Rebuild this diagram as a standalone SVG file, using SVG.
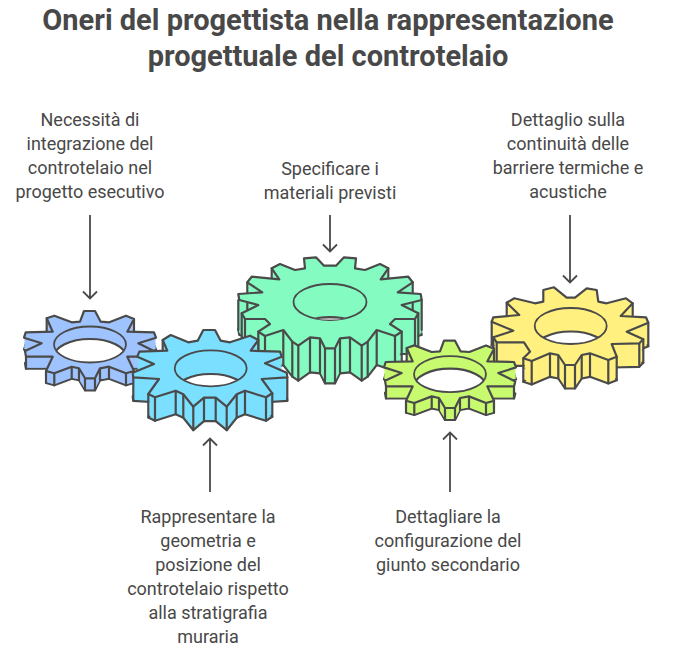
<svg xmlns="http://www.w3.org/2000/svg" xmlns:xlink="http://www.w3.org/1999/xlink" width="673" height="662" viewBox="0 0 673 662">
<style>
text{font-family:Roboto,"Liberation Sans",sans-serif;fill:#484848;text-anchor:middle}
.t{font-size:29px;font-weight:700}
.l{font-size:18px}
.s{stroke:none}
.e,.v,.h{stroke:#4a4a4a;stroke-width:2.2;stroke-linejoin:round;stroke-linecap:round}
.v,.c{fill:none}
.c{stroke:#4a4a4a;stroke-width:1.8;stroke-linecap:butt}
.w{fill:#fff;stroke:#4a4a4a;stroke-width:2.2}
.a{fill:none;stroke:#4a4a4a;stroke-width:1.8;stroke-linejoin:miter}
</style>
<defs>
<polygon id="small" points="84,311 95,311 100.7,321.7 109.3,322.3 126,315.7 134,319 127.3,331.7 154,332.3 156,337.7 138.3,343.3 155.3,351.7 154,356.7 127.3,356.7 134,371 126,373.3 109,366.7 100,368.3 95,378.3 85,378.3 79,368.3 71.7,366.7 54.3,373.3 46,371 52.7,356.7 26,356.7 25,351 41.7,343.3 24,337.7 25.7,332.3 52.7,331.7 46.7,318.3 54.3,315.7 71.7,322.3 80,321.7"/>
<polygon id="cy" points="203.3,330 215,330 220.7,340.7 230,342.3 250,335.7 258.3,340 250.7,350.7 280,351.7 281.7,356.7 265,363.3 286.7,372.7 287.3,377.3 261.7,379 272.3,393.3 266,397.3 245,390.7 236.7,394.3 226.7,406.7 215.7,397.7 204,397.7 193.3,406.7 183.3,394.3 175.7,390.7 155,397.3 148.3,394 159,379 133.3,377.3 132.7,372.7 154,364 137.3,356.7 139.3,351.7 167.3,350.7 162.7,340 170.7,335 188.3,342.3 197.7,340.7"/>
<polygon id="gr" points="304,258.3 316,257.3 324,265.7 336,265.7 344,257.3 356,258.3 355,268.3 365,270 380,264 388.3,268.3 380.7,279.3 408.3,276.7 412.7,282.3 397.7,292.3 420.7,294 421.7,300 401.7,305 418.3,313.3 415,319 395,319 390,324 401.7,331.7 395,336 376.7,330 367.7,341.7 361.7,345.7 350,337.3 340,338.3 335,348.3 325,348.3 320,338.3 310,337.3 298.3,345.7 292.3,341.7 283.3,330 265,336 258.3,331.7 270,324 265,319 245,319 241.7,313.3 258.3,305 239.3,300 238.3,294 262.3,292.3 247.3,282.3 251.7,276.7 279.3,279.3 271.7,268.3 280,264 295,270 305,268.3"/>
<polygon id="ye" points="543.3,290 554,287.3 566.7,297.7 575,297.7 586.7,288.3 596.7,290 598.3,301.7 606.7,303.3 626,298.3 632.7,303.3 620.7,316 646,317.3 648.3,322.7 626.7,331.7 643.3,339.3 639.3,343.3 611.7,344 616.7,356.7 608.3,360 590,353.3 581.7,355 575,365 565,365 558.3,355 550,353.3 531.7,361 523.3,358.3 530,351.7 524,342.3 496.7,342.3 493.3,337.3 513.3,330.7 491.7,321.7 493.3,317.3 519.3,315 506.7,302.7 514.3,298.3 535,303.3 543.3,301.7"/>
<clipPath id="hb"><ellipse cx="90" cy="344.5" rx="36" ry="18"/></clipPath>
<clipPath id="hc"><ellipse cx="210.7" cy="368.3" rx="36" ry="18"/></clipPath>
<clipPath id="hg"><ellipse cx="330" cy="302" rx="36.5" ry="18"/></clipPath>
<clipPath id="hy"><ellipse cx="570.7" cy="326" rx="36" ry="18"/></clipPath>
<clipPath id="hl"><ellipse cx="450" cy="374.2" rx="36" ry="18"/></clipPath>
</defs>

<g id="title">
<text class="t" x="328" y="30">Oneri del progettista nella rappresentazione</text>
<text class="t" x="328" y="66">progettuale del controtelaio</text>
</g>

<g id="gear-green" fill="#84fbc0">
<use href="#gr" class="e" y="35"/>
<use href="#gr" class="s" y="3"/><use href="#gr" class="s" y="6"/><use href="#gr" class="s" y="9"/><use href="#gr" class="s" y="12"/><use href="#gr" class="s" y="15"/><use href="#gr" class="s" y="18"/><use href="#gr" class="s" y="21"/><use href="#gr" class="s" y="24"/><use href="#gr" class="s" y="27"/><use href="#gr" class="s" y="30"/><use href="#gr" class="s" y="33"/>
<path class="v" d="M415 319v35M245 319v35M241.7 313.3v35M418.3 313.3v35M401.7 331.7v35M395 336v35M376.7 330v35M367.7 341.7v35M361.7 345.7v35M350 337.3v35M340 338.3v35M335 348.3v35M325 348.3v35M320 338.3v35M310 337.3v35M298.3 345.7v35M292.3 341.7v35M283.3 330v35M265 336v35M258.3 331.7v35M421.7 300v30M238.3 300v30M412.7 282.3v30M247.3 282.3v30M388.3 268.3v20M271.7 268.3v20"/>
<use href="#gr" class="e"/>
<ellipse class="c" cx="330" cy="302" rx="36.5" ry="18"/>
<g clip-path="url(#hg)"><ellipse cx="330" cy="335" rx="36.5" ry="18" fill="#b9b9b9" stroke="#4a4a4a" stroke-width="1.8"/></g>
</g>

<g id="gear-blue" fill="#9fc3ff">
<use href="#small" class="e" y="12"/>
<use href="#small" class="s" y="3"/><use href="#small" class="s" y="6"/><use href="#small" class="s" y="9"/><use href="#small" class="s" y="11"/>
<path class="v" d="M154 356.7v12M134 371v12M126 373.3v12M109 366.7v12M100 368.3v12M95 378.3v12M85 378.3v12M79 368.3v12M71.7 366.7v12M54.3 373.3v12M46 371v12M26 356.7v12M134 319v12M46.7 318.3v12"/>
<use href="#small" class="e"/>
<g clip-path="url(#hb)"><ellipse class="w" cx="90" cy="357" rx="36" ry="18"/></g>
<ellipse class="c" cx="90" cy="344.5" rx="36" ry="18"/>
</g>

<g id="gear-cyan" fill="#7bdfff">
<use href="#cy" class="e" y="23.5"/>
<use href="#cy" class="s" y="3"/><use href="#cy" class="s" y="6"/><use href="#cy" class="s" y="9"/><use href="#cy" class="s" y="12"/><use href="#cy" class="s" y="15"/><use href="#cy" class="s" y="18"/><use href="#cy" class="s" y="21"/>
<path class="v" d="M287.3 377.3v23.5M272.3 393.3v23.5M266 397.3v23.5M245 390.7v23.5M236.7 394.3v23.5M226.7 406.7v23.5M215.7 397.7v23.5M204 397.7v23.5M193.3 406.7v23.5M183.3 394.3v23.5M175.7 390.7v23.5M155 397.3v23.5M148.3 394v23.5M133.3 377.3v23.5M258.3 340v12M162.7 340v12"/>
<use href="#cy" class="e"/>
<g clip-path="url(#hc)"><ellipse class="w" cx="210.7" cy="392" rx="36" ry="18"/></g>
<ellipse class="c" cx="210.7" cy="368.3" rx="36" ry="18"/>
</g>

<g id="gear-yellow" fill="#fff07f">
<use href="#ye" class="e" y="23.5"/>
<use href="#ye" class="s" y="3"/><use href="#ye" class="s" y="6"/><use href="#ye" class="s" y="9"/><use href="#ye" class="s" y="12"/><use href="#ye" class="s" y="15"/><use href="#ye" class="s" y="18"/><use href="#ye" class="s" y="21"/>
<path class="v" d="M648.3 322.7v23.5M643.3 339.3v23.5M639.3 343.3v23.5M616.7 356.7v23.5M608.3 360v23.5M590 353.3v23.5M581.7 355v23.5M575 365v23.5M565 365v23.5M558.3 355v23.5M550 353.3v23.5M531.7 361v23.5M523.3 358.3v23.5M496.7 342.3v23.5M493.3 337.3v23.5M491.7 321.7v23.5M632.7 303.3v12M506.7 302.7v12"/>
<use href="#ye" class="e"/>
<g clip-path="url(#hy)"><ellipse class="w" cx="570.7" cy="349.5" rx="36" ry="18"/></g>
<ellipse class="c" cx="570.7" cy="326" rx="36" ry="18"/>
</g>

<g id="gear-lime" fill="#c8fa70" transform="translate(360 29.7)">
<use href="#small" class="e" y="12"/>
<use href="#small" class="s" y="3"/><use href="#small" class="s" y="6"/><use href="#small" class="s" y="9"/><use href="#small" class="s" y="11"/>
<path class="v" d="M154 356.7v12M134 371v12M126 373.3v12M109 366.7v12M100 368.3v12M95 378.3v12M85 378.3v12M79 368.3v12M71.7 366.7v12M54.3 373.3v12M46 371v12M26 356.7v12M134 319v12M46.7 318.3v12"/>
<use href="#small" class="e"/>
<g clip-path="url(#hb)"><ellipse class="w" cx="90" cy="357" rx="36" ry="18"/></g>
<ellipse class="c" cx="90" cy="344.5" rx="36" ry="18"/>
</g>

<g id="connectors">
<path class="a" d="M90 215V298M83 291.500L90 298.500L97 291.500"/>
<path class="a" d="M330 215V251M323 244.500L330 251.500L337 244.500"/>
<path class="a" d="M570 215V282M563 275.500L570 282.500L577 275.500"/>
<path class="a" d="M210 492V439M203 445.500L210 438.500L217 445.500"/>
<path class="a" d="M450 492V433M443 439.500L450 432.500L457 439.500"/>
</g>

<g id="label-1">
<text class="l" x="90" y="126">Necessità di</text>
<text class="l" x="90" y="150">integrazione del</text>
<text class="l" x="90" y="174">controtelaio nel</text>
<text class="l" x="90" y="198">progetto esecutivo</text>
</g>
<g id="label-2">
<text class="l" x="330" y="175">Specificare i</text>
<text class="l" x="330" y="199">materiali previsti</text>
</g>
<g id="label-3">
<text class="l" x="568" y="126">Dettaglio sulla</text>
<text class="l" x="568" y="150">continuità delle</text>
<text class="l" x="568" y="174">barriere termiche e</text>
<text class="l" x="568" y="198">acustiche</text>
</g>
<g id="label-4">
<text class="l" x="208" y="523">Rappresentare la</text>
<text class="l" x="208" y="547">geometria e</text>
<text class="l" x="208" y="571">posizione del</text>
<text class="l" x="208" y="595">controtelaio rispetto</text>
<text class="l" x="208" y="619">alla stratigrafia</text>
<text class="l" x="208" y="643">muraria</text>
</g>
<g id="label-5">
<text class="l" x="448" y="523">Dettagliare la</text>
<text class="l" x="448" y="547">configurazione del</text>
<text class="l" x="448" y="571">giunto secondario</text>
</g>
</svg>
